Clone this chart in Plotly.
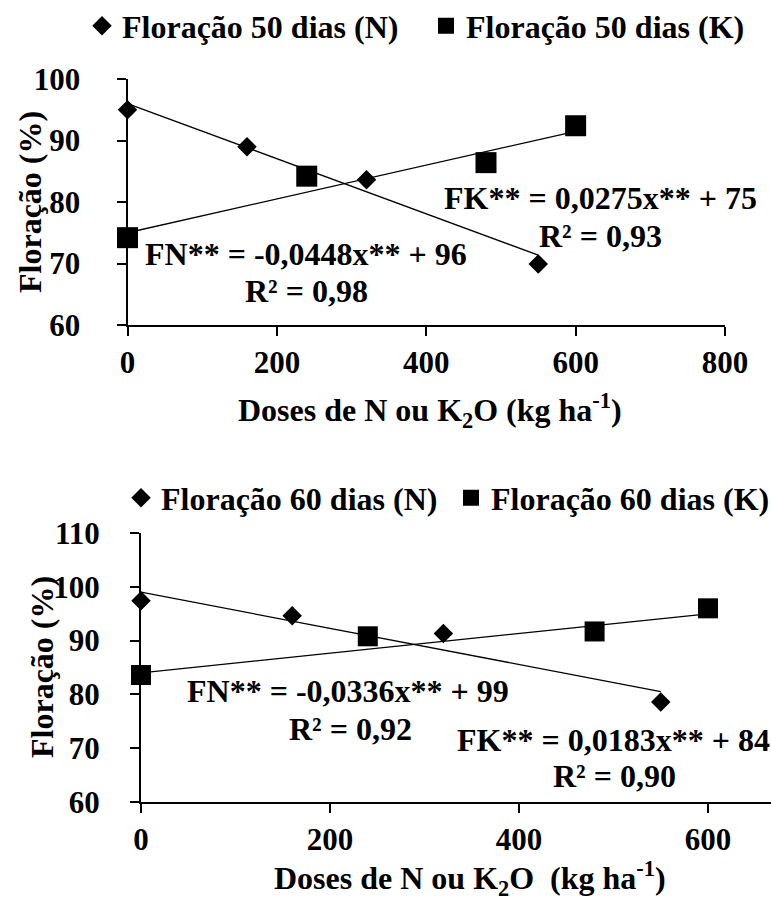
import plotly.graph_objects as go

W, H = 771, 899

# ---------------- data ----------------
doses_n = [0, 160, 320, 550]
doses_k = [0, 240, 480, 600]

flor50_n = [95.0, 89.0, 83.6, 69.9]
flor50_k = [74.2, 84.2, 86.4, 92.4]
flor60_n = [97.4, 94.6, 91.3, 78.6]
flor60_k = [83.6, 90.8, 91.7, 96.0]

# fitted equations shown on the chart (slope, intercept)
fit50_n = (-0.0448, 96)
fit50_k = (0.0275, 75)
fit60_n = (-0.0336, 99)
fit60_k = (0.0183, 84)

legend50 = ["Floração 50 dias (N)", "Floração 50 dias (K)"]
legend60 = ["Floração 60 dias (N)", "Floração 60 dias (K)"]

eq50_n = ["FN** = -0,0448x** + 96", "R² = 0,98"]
eq50_k = ["FK** = 0,0275x** + 75", "R² = 0,93"]
eq60_n = ["FN** = -0,0336x** + 99", "R² = 0,92"]
eq60_k = ["FK** = 0,0183x** + 84", "R² = 0,90"]

top_xticks = [0, 200, 400, 600, 800]
top_yticks = [60, 70, 80, 90, 100]
bot_xticks = [0, 200, 400, 600]
bot_yticks = [60, 70, 80, 90, 100, 110]

ytitle = "Floração (%)"
xtitle_top = "Doses de N ou K<sub>2</sub>O (kg ha<sup>-1</sup>)"
xtitle_bot = "Doses de N ou K<sub>2</sub>O\u00a0\u00a0(kg ha<sup>-1</sup>)"

FONT = "Liberation Serif, Times New Roman, serif"


def px(x):
    return x / W


def py(y):
    return 1 - y / H


fig = go.Figure()


def trend(xs, fit):
    xr = [min(xs), max(xs)]
    return xr, [fit[0] * v + fit[1] for v in xr]


line_style = dict(color="black", width=1.3)

# top chart
for xs, ys, fit, name, sym, size in [
    (doses_n, flor50_n, fit50_n, legend50[0], "diamond", 15),
    (doses_k, flor50_k, fit50_k, legend50[1], "square", 21),
]:
    tx, ty = trend(xs, fit)
    fig.add_trace(go.Scatter(x=tx, y=ty, mode="lines", line=line_style,
                             showlegend=False, xaxis="x", yaxis="y",
                             cliponaxis=False, hoverinfo="skip"))
    fig.add_trace(go.Scatter(x=xs, y=ys, mode="markers", name=name,
                             marker=dict(symbol=sym, size=size, color="black"),
                             xaxis="x", yaxis="y", cliponaxis=False,
                             legend="legend"))

# bottom chart
for xs, ys, fit, name, sym, size in [
    (doses_n, flor60_n, fit60_n, legend60[0], "diamond", 15),
    (doses_k, flor60_k, fit60_k, legend60[1], "square", 20),
]:
    tx, ty = trend(xs, fit)
    fig.add_trace(go.Scatter(x=tx, y=ty, mode="lines", line=line_style,
                             showlegend=False, xaxis="x2", yaxis="y2",
                             cliponaxis=False, hoverinfo="skip"))
    fig.add_trace(go.Scatter(x=xs, y=ys, mode="markers", name=name,
                             marker=dict(symbol=sym, size=size, color="black"),
                             xaxis="x2", yaxis="y2", cliponaxis=False,
                             legend="legend2"))

axis_common = dict(showline=True, linecolor="black", linewidth=2,
                   ticks="outside", ticklen=9, tickwidth=2, tickcolor="black",
                   showgrid=False, zeroline=False, automargin=False,
                   tickfont=dict(family=FONT, size=31, color="black", weight="bold"))

# top: x 0 at 127.5px, 800 at 725px; y 100 at 79px, 60 at 325px
fig.update_layout(
    xaxis=dict(domain=[px(127.5), px(725)], range=[0, 800], tickvals=top_xticks,
               anchor="y", **axis_common),
    yaxis=dict(domain=[py(325), py(79)], range=[60, 100], tickvals=top_yticks,
               anchor="x", ticklabelstandoff=30, **axis_common),
    xaxis2=dict(domain=[px(141), 1.0], range=[0, (W - 141) / 0.945],
                tickvals=bot_xticks, anchor="y2", **axis_common),
    yaxis2=dict(domain=[py(802), py(533)], range=[60, 110], tickvals=bot_yticks,
                anchor="x2", ticklabelstandoff=24, **axis_common),
)

legend_common = dict(orientation="h", xanchor="left", yanchor="middle",
                     font=dict(family=FONT, size=32, color="black", weight="bold"),
                     bgcolor="rgba(0,0,0,0)", entrywidthmode="pixels",
                     itemwidth=30)
fig.update_layout(
    legend=dict(x=px(82), y=py(26), entrywidth=299, **legend_common),
    legend2=dict(x=px(121), y=py(498), entrywidth=285, **legend_common),
)

ann = []


def text(x, y, t, size=32, angle=0):
    ann.append(dict(x=px(x), y=py(y), xref="paper", yref="paper", text=t,
                    showarrow=False, xanchor="center", yanchor="middle",
                    textangle=angle,
                    font=dict(family=FONT, size=size, color="black", weight="bold")))


text(306, 254, eq50_n[0])
text(306, 291, eq50_n[1])
text(600, 198, eq50_k[0])
text(600, 236, eq50_k[1])
text(348, 691, eq60_n[0])
text(350, 729, eq60_n[1])
text(613, 740, eq60_k[0])
text(614, 776, eq60_k[1])

text(30, 202, ytitle, angle=-90)
text(42, 667, ytitle, angle=-90)
text(430, 410, xtitle_top)
text(470, 878, xtitle_bot)

fig.update_layout(
    annotations=ann,
    width=W, height=H,
    margin=dict(l=0, r=0, t=0, b=0, autoexpand=False),
    paper_bgcolor="white", plot_bgcolor="white",
    font=dict(family=FONT, color="black"),
)

fig.write_html("out.html", config={"displayModeBar": False})
